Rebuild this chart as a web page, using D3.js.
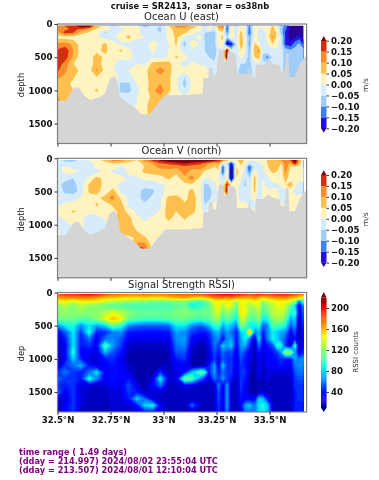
<!DOCTYPE html>
<html>
<head>
<meta charset="utf-8">
<script src="https://d3js.org/d3.v7.min.js"></script>
<style>
  html, body { margin: 0; padding: 0; background: #fff; }
  svg { display: block; filter: blur(0.35px); }
  text { font-family: "DejaVu Sans", sans-serif; }
</style>
</head>
<body>
<svg id="chart" width="379" height="480"></svg>
<script>
// grid the sections are read on, finer over the shelf where the streaks are
const latGrid = [32.50,32.535,32.575,32.61,32.65,32.685,32.725,32.76,32.80,32.835,32.875,32.91,32.95,32.985,33.025,33.06,33.10,33.135,33.175,33.195,33.215,33.24,33.26,33.28,33.30,33.32,33.345,33.365,33.385,33.405,33.43,33.45,33.47,33.49,33.515,33.535,33.555,33.575,33.60,33.62,33.64,33.66]
const velDepths = [25,80,130,200,300,400,500,600,700,800,900,1000,1100,1200,1300,1400]
const rssiDepths = [25,80,130,200,300,400,500,600,700,800,900,1000,1100,1200,1300,1400,1500,1600,1700,1800]

// ocean U, cm/s
const oceanU = [
[12,15,18,25,25,8,3,-2,2,2,2,-8,-3,-5,5,12,12,10,2,-3,3,-2,12,16,-14,3,-3,3,1,-12,4,1,1,0,6,1,-6,-12,-22,-25,-25,-25],
[10,14,16,14,9,4,2,-1,-1,1,2,-3,-4,-6,2,8,8,4,1,-3,2,-3,7,9,-15,3,-2,4,1,-13,3,-1,0,1,7,2,-8,-13,-22,-25,-25,-25],
[8,17,15,7,4,2,-6,-2,1,3,1,-2,-3,-5,2,7,6,1,-1,-5,-7,-7,1,4,-11,3,-3,7,0,-14,3,-2,-2,1,9,4,-7,-16,-23,-25,-22,-25],
[3,3,2,1,1,1,-2,-1,2,7,1,0,-2,-3,1,6,-1,-1,2,-6,-9,-8,4,6,-6,3,-1,8,1,-10,2,-1,-2,2,11,4,-3,-15,-22,-20,-17,-22],
[11,12,9,2,1,3,6,1,-1,-2,-2,-2,2,-1,0,6,-8,5,-1,-5,-8,-7,3,4,-23,-18,-3,8,2,-11,6,1,-4,0,5,3,-3,-16,-18,-12,-9,-16],
[16,19,10,3,2,4,6,3,6,1,-2,-3,1,-3,0,2,-2,-1,-2,-5,-6,-8,-2,-4,25,-4,-3,5,1,-9,9,11,-3,-1,-2,-2,-3,-7,-9,-8,-7,-7],
[20,18,9,2,3,7,4,1,1,1,-1,-2,-1,-2,1,6,2,-2,-2,-3,-5,-6,-1,-2,25,-2,-3,2,-2,-7,5,8,-7,-12,-4,-3,-4,-6,-7,-6,-6,-6],
[18,13,5,2,2,8,2,1,-3,-1,0,-1,7,8,7,1,-2,1,-1,-1,-5,-4,-3,-2,-2,-2,-3,-5,-5,-6,-2,-2,-4,-2,-2,-2,-4,-6,-6,-6,-6,-6],
[16,11,7,4,3,11,3,1,-4,0,0,3,9,12,8,0,2,5,4,3,-2,-3,-3,-3,-3,-3,-4,-6,-6,-7,-3,-6,-3,-3,-3,-3,-4,-6,-6,-6,-6,-6],
[11,9,6,1,1,5,2,2,-1,-1,1,3,8,9,6,1,-5,3,1,1,1,1,1,1,1,1,-4,-6,-6,-6,-3,-3,-3,-3,-3,-3,-4,-6,-6,-6,-6,-6],
[7,8,3,0,1,1,1,1,-6,-6,0,2,8,10,6,1,-7,1,1,1,1,1,1,1,1,1,1,1,1,1,1,1,1,1,1,1,1,1,1,1,1,1],
[5,6,5,1,3,6,2,1,-6,-7,-1,2,9,13,6,1,-4,2,3,2,1,1,1,1,1,1,1,1,1,1,1,1,1,1,1,1,1,1,1,1,1,1],
[11,7,2,1,5,2,1,1,-3,-2,0,1,7,9,3,0,1,1,1,1,1,1,1,1,1,1,1,1,1,1,1,1,1,1,1,1,1,1,1,1,1,1],
[11,7,2,1,2,1,1,1,-1,-1,0,3,8,5,1,0,1,1,1,1,1,1,1,1,1,1,1,1,1,1,1,1,1,1,1,1,1,1,1,1,1,1],
[11,7,2,1,2,1,1,1,-1,-1,1,4,7,3,1,0,1,1,1,1,1,1,1,1,1,1,1,1,1,1,1,1,1,1,1,1,1,1,1,1,1,1],
[11,7,2,1,2,1,1,1,-1,-1,2,4,6,2,1,0,1,1,1,1,1,1,1,1,1,1,1,1,1,1,1,1,1,1,1,1,1,1,1,1,1,1]
]

// ocean V, cm/s
const oceanV = [
[-3,-6,-8,-2,1,3,7,12,12,8,5,12,18,22,25,25,25,25,25,25,25,22,20,14,8,3,4,10,2,0,1,1,1,6,9,10,11,12,16,25,10,-1],
[-3,-4,-2,-3,-2,1,3,5,4,3,3,6,10,14,16,18,20,18,16,14,10,8,10,-4,-5,-18,2,6,3,-5,-2,-2,2,5,10,9,5,12,9,20,8,-3],
[-1,1,-2,-3,-1,1,2,3,-1,1,3,5,9,11,11,11,13,12,11,10,7,5,7,-14,2,-24,5,4,-1,-15,-2,-3,-1,4,9,9,1,13,4,2,2,-1],
[-2,1,2,-1,-3,-2,1,-1,-2,1,3,6,7,8,9,7,12,8,9,4,3,4,3,-15,4,-26,7,2,-2,-12,3,-3,-1,3,6,5,1,12,2,1,1,1],
[1,-3,-5,-3,1,7,3,5,2,-1,-1,1,2,3,6,2,9,12,3,-1,1,2,0,-5,2,-25,5,1,-5,-5,7,-2,0,-1,2,2,1,8,1,1,1,1],
[-3,-7,-7,-2,6,8,3,2,-1,-2,-1,-2,-3,-1,1,1,3,4,1,-6,-5,-2,2,-1,20,2,2,-2,-6,-3,7,-2,1,-2,-1,-1,1,4,9,1,-2,-1],
[-2,-6,-7,-3,6,7,1,8,-1,-2,-2,-8,-6,-1,1,1,4,6,1,-7,-7,-3,1,-1,23,6,1,-3,-3,-2,6,-3,1,1,1,1,-2,-2,1,-1,-1,-1],
[1,-2,-2,1,2,3,8,12,4,-1,-2,-8,-3,-1,7,8,3,8,1,-7,-6,-2,1,1,1,1,1,-1,-1,-1,2,-3,1,1,1,1,-1,-1,1,1,1,1],
[-1,1,2,2,1,6,2,6,7,-1,-2,-3,-5,-1,8,8,6,8,1,-5,-2,1,1,1,1,1,1,1,1,-1,-2,1,1,1,1,1,1,-1,1,1,1,1],
[2,2,6,3,1,2,1,2,8,3,-1,-2,-3,1,8,5,9,7,1,-1,1,1,1,1,1,1,1,1,1,1,1,1,1,1,1,1,1,1,1,1,1,1],
[-1,1,1,1,-2,-2,1,3,7,7,1,-1,1,2,7,2,6,2,1,1,1,1,1,1,1,1,1,1,1,1,1,1,1,1,1,1,1,1,1,1,1,1],
[-1,-2,1,1,-3,-2,-2,3,8,8,2,1,1,3,2,1,2,1,1,1,1,1,1,1,1,1,1,1,1,1,1,1,1,1,1,1,1,1,1,1,1,1],
[1,-2,-1,1,-2,-2,1,2,8,9,5,2,1,2,1,1,1,1,1,1,1,1,1,1,1,1,1,1,1,1,1,1,1,1,1,1,1,1,1,1,1,1],
[1,-2,-1,1,-2,-2,1,2,2,3,6,6,2,1,1,1,1,1,1,1,1,1,1,1,1,1,1,1,1,1,1,1,1,1,1,1,1,1,1,1,1,1],
[1,-2,-1,1,-2,-2,1,2,2,3,12,12,2,1,1,1,1,1,1,1,1,1,1,1,1,1,1,1,1,1,1,1,1,1,1,1,1,1,1,1,1,1],
[1,-2,-1,1,-2,-2,1,2,2,3,25,18,2,1,1,1,1,1,1,1,1,1,1,1,1,1,1,1,1,1,1,1,1,1,1,1,1,1,1,1,1,1]
]

// signal strength, counts
const rssiCounts = [
[185,190,190,195,200,195,185,180,178,175,175,178,175,175,178,180,180,182,185,188,190,192,198,200,205,200,195,195,190,185,190,195,190,188,190,195,195,195,190,185,180,175],
[165,168,170,172,170,165,158,155,152,150,150,152,150,150,155,160,165,155,150,155,160,175,170,175,165,175,165,165,160,165,170,160,150,160,165,165,170,170,165,155,150,145],
[145,148,140,148,150,148,138,132,128,125,120,118,115,112,115,118,118,105,100,110,120,140,145,140,150,140,125,145,140,140,150,145,125,135,140,150,145,145,135,130,60,110],
[115,130,115,130,120,118,110,105,105,100,100,100,100,100,100,105,110,85,95,100,110,135,150,125,145,140,110,150,140,125,130,140,105,120,130,140,145,135,110,80,25,70],
[118,122,118,122,118,118,130,138,130,118,112,110,110,110,110,115,120,115,110,115,110,130,140,110,125,115,100,150,145,120,115,130,100,110,130,135,135,125,90,100,25,60],
[110,112,112,105,105,118,142,160,148,110,105,100,100,100,105,110,110,105,100,105,105,120,125,95,110,100,85,135,130,105,105,120,85,90,120,125,125,110,70,80,18,55],
[65,85,90,65,85,70,80,110,95,65,58,55,55,55,58,85,85,65,55,65,75,95,100,70,85,75,60,115,110,85,85,95,53,65,105,100,100,90,53,70,16,47],
[32,53,85,47,95,40,45,60,65,40,38,38,38,38,40,70,65,47,40,36,47,70,75,53,70,60,40,80,85,170,60,75,40,65,85,80,70,65,33,53,16,40],
[27,40,85,40,60,33,60,65,53,32,30,30,30,30,32,65,70,33,28,27,40,60,65,33,65,70,40,70,90,60,22,85,33,60,90,80,65,53,27,40,16,40],
[27,33,85,40,47,33,105,70,47,24,22,22,22,22,24,60,65,27,20,20,33,60,47,80,70,80,33,70,75,47,18,60,33,40,53,95,90,47,27,100,16,40],
[22,33,95,33,33,27,75,53,40,20,19,19,19,19,20,53,53,22,18,18,27,53,40,60,47,53,30,60,47,33,18,40,27,33,40,47,70,125,120,70,22,47],
[22,33,80,44,27,27,40,44,33,18,18,18,18,18,20,40,47,20,18,18,27,47,33,53,47,47,27,53,40,33,18,33,24,33,33,40,47,40,40,70,60,70],
[22,47,60,75,40,27,33,40,33,22,18,18,18,20,20,33,33,18,18,22,40,70,33,80,47,47,27,47,40,27,16,33,22,33,33,33,40,33,33,60,65,65],
[47,60,47,40,60,85,33,40,33,27,20,18,18,47,22,27,40,80,110,95,40,70,40,60,47,47,27,47,47,27,16,33,20,27,27,27,27,27,27,53,60,60],
[60,47,47,40,95,65,30,40,33,40,20,18,27,90,27,27,115,105,60,40,27,60,47,70,47,40,22,47,40,22,16,27,20,27,22,22,22,22,22,47,53,53],
[47,40,47,27,27,22,27,33,30,53,27,18,33,60,22,22,33,27,22,20,22,22,65,27,70,22,20,47,33,22,16,22,18,22,20,20,20,22,20,47,47,47],
[60,33,47,27,22,22,22,27,27,47,40,22,27,27,22,22,22,20,20,20,20,22,53,27,70,22,20,44,33,22,16,22,22,20,20,20,20,20,20,40,47,47],
[33,27,47,27,22,22,20,27,27,40,80,60,27,22,22,22,20,20,20,20,20,22,53,27,70,22,20,40,33,33,33,80,75,40,20,20,20,20,20,40,47,47],
[22,33,47,27,20,20,20,27,27,27,40,80,90,33,22,20,20,60,27,20,20,22,47,27,70,22,20,33,70,80,60,85,90,80,27,20,20,20,20,40,40,40],
[20,33,47,22,20,20,20,24,24,22,27,40,40,27,20,20,20,20,20,20,20,22,47,27,65,22,20,27,60,60,60,80,85,75,27,20,20,20,20,40,40,40]
]

// bottom depth along the section
const bottomLat = [32.499,32.54,32.564,32.582,32.601,32.622,32.653,32.70,32.724,32.747,32.771,32.787,32.795,32.826,32.873,32.894,32.936,32.96,33.007,33.10,33.185,33.188,33.211,33.215,33.230,33.235,33.248,33.254,33.263,33.285,33.287,33.300,33.302,33.330,33.342,33.348,33.400,33.405,33.411,33.432,33.436,33.470,33.495,33.520,33.550,33.553,33.573,33.578,33.589,33.594,33.620,33.642,33.678]
const bottomDepth = [1160,1160,1024,958,958,1064,1150,1100,1050,823,783,923,1100,1175,1285,1360,1360,1250,1074,1074,1050,813,813,663,663,773,773,562,396,396,562,562,411,422,472,748,748,622,748,813,612,612,547,597,622,713,713,447,447,798,798,612,447]

const uvLevels = [-20,-15,-10,-5,0,5,10,15,20]
const uvColors = ['#2a0090','#2210e0','#3d80f0','#a0cef8','#d6ecfb','#fff3bf','#ffc04d','#ff8a2a','#d92c0c','#7a0010']
const rssiTicks = [40,80,120,160,200]
const uvTicks = [0.20,0.15,0.10,0.05,0,-0.05,-0.10,-0.15,-0.20]
const depthTicks = [0,500,1000,1500]
const latTicks = [32.5,32.75,33,33.25,33.5]
const latLabels = ['32.5°N','32.75°N','33°N','33.25°N','33.5°N']

const panels = [
  {title:'Ocean U (east)', ylabel:'depth', top:24, grid:oceanU, kind:'uv', titleY:20},
  {title:'Ocean V (north)', ylabel:'depth', top:158.3, grid:oceanV, kind:'uv', titleY:153.5},
  {title:'Signal Strength RSSI)', ylabel:'dep', top:292.5, grid:rssiCounts, kind:'rssi', titleY:288}
]

let svg = d3.select('#chart')

let xScale = d3.scaleLinear().domain([32.5,33.675]).range([57.5,306.6])

// matplotlib jet, stops copied from its segment table
let jet = d3.scaleLinear()
  .domain([0,.11,.125,.34,.35,.375,.64,.66,.89,.91,1])
  .range(['#00007f','#0000ff','#0000ff','#00dbff','#00e6f7','#14ffe2','#eeff08','#ffec00','#ff1300','#e80000','#7f0000'])
let rssiColor = d => jet((d - 10) / 210)

function drawField(g, panel, yScale) {
  let grid = panel.grid
  let depths = panel.kind == 'uv' ? velDepths : rssiDepths
  let n = latGrid.length, m = depths.length
  let xIdx = d3.scaleLinear().domain(d3.range(n)).range(latGrid).clamp(true)
  let yIdx = d3.scaleLinear().domain(d3.range(m)).range(depths).clamp(true)
  let path = d3.geoPath(d3.geoTransform({
    point(x, y) {
      this.stream.point(xScale(xIdx(x - 0.5)), yScale(yIdx(y - 0.5)))
    }
  }))

  let thresholds, color
  if (panel.kind == 'uv') {
    thresholds = [-100].concat(uvLevels)
    color = i => uvColors[i]
  } else {
    thresholds = d3.range(0, 236, 4)
    color = i => rssiColor(thresholds[i] + 2)
  }
  let contours = d3.contours().size([n, m]).thresholds(thresholds)(grid.flat())
  g.selectAll('path.band')
    .data(contours)
    .enter()
    .append('path')
    .attr('class', 'band')
    .attr('d', path)
    .attr('fill', (d, i) => color(i))
}

function drawBottom(g, yScale) {
  let area = d3.area()
    .x(d => xScale(d[0]))
    .y0(yScale.range()[1])
    .y1(d => yScale(d[1]))
  g.append('path')
    .attr('d', area(d3.zip(bottomLat, bottomDepth)))
    .attr('fill', '#d5d5d5')
}

function styleAxis(a) {
  a.attr('font-family', '"DejaVu Sans", sans-serif')
    .attr('font-size', 8.6)
    .attr('font-weight', 'bold')
  a.select('.domain').remove()
  a.selectAll('.tick line').attr('stroke', '#333')
  a.selectAll('.tick text').attr('fill', '#111')
}

function drawColorbar(panel) {
  let x = 321, w = 5.5
  let bar = svg.append('g')
  if (panel.kind == 'uv') {
    let off = panel.top - 24
    let cScale = d3.scaleLinear().domain([-0.2,0.2]).range([128.3 + off, 40.7 + off])
    let edges = d3.pairs(uvLevels)
    bar.selectAll('rect')
      .data(edges)
      .enter()
      .append('rect')
      .attr('x', x).attr('width', w)
      .attr('y', d => cScale(d[1] / 100))
      .attr('height', d => cScale(d[0] / 100) - cScale(d[1] / 100))
      .attr('fill', (d, i) => uvColors[i + 1])
    bar.append('path')
      .attr('d', `M${x},${40.9 + off}L${x + w / 2},${36 + off}L${x + w},${40.9 + off}Z`)
      .attr('fill', uvColors[9])
    bar.append('path')
      .attr('d', `M${x},${128.1 + off}L${x + w / 2},${132.8 + off}L${x + w},${128.1 + off}Z`)
      .attr('fill', uvColors[0])
    bar.append('g')
      .attr('transform', `translate(${x + w},0)`)
      .call(d3.axisRight(cScale).tickValues(uvTicks).tickSize(2.5).tickPadding(2)
        .tickFormat(d => d3.format('.2f')(d).replace('-', '\u2212')))
      .call(styleAxis)
    svg.append('text')
      .attr('transform', `translate(368,${85 + off}) rotate(-90)`)
      .attr('text-anchor', 'middle')
      .attr('font-size', 7.5)
      .attr('fill', '#333')
      .text('m/s')
  } else {
    let cScale = d3.scaleLinear().domain([40,200]).range([392,308])
    bar.selectAll('rect')
      .data(d3.range(10, 220, 2))
      .enter()
      .append('rect')
      .attr('x', x).attr('width', w)
      .attr('y', d => cScale(d + 2))
      .attr('height', cScale(0) - cScale(2) + 0.3)
      .attr('fill', d => rssiColor(d + 1))
    bar.append('path')
      .attr('d', `M${x},${cScale(220)}L${x + w / 2},292L${x + w},${cScale(220)}Z`)
      .attr('fill', '#7f0000')
    bar.append('path')
      .attr('d', `M${x},${cScale(10)}L${x + w / 2},412L${x + w},${cScale(10)}Z`)
      .attr('fill', '#00007f')
    bar.append('g')
      .attr('transform', `translate(${x + w},0)`)
      .call(d3.axisRight(cScale).tickValues(rssiTicks).tickSize(2.5).tickPadding(2))
      .call(styleAxis)
    svg.append('text')
      .attr('transform', 'translate(358,352) rotate(-90)')
      .attr('text-anchor', 'middle')
      .attr('font-size', 7)
      .attr('fill', '#333')
      .text('RSSI counts')
  }
}

panels.forEach((panel, i) => {
  let yScale = d3.scaleLinear().domain([0,1800]).range([panel.top, panel.top + 119.5])
  let g = svg.append('g')
  drawField(g, panel, yScale)
  if (panel.kind == 'uv') drawBottom(g, yScale)

  g.append('rect')
    .attr('x', xScale.range()[0])
    .attr('y', panel.top)
    .attr('width', xScale.range()[1] - xScale.range()[0])
    .attr('height', 119.5)
    .attr('fill', 'none')
    .attr('stroke', '#808080')
    .attr('stroke-width', 1.2)

  g.append('g')
    .attr('transform', `translate(${xScale.range()[0]},0)`)
    .call(d3.axisLeft(yScale).tickValues(depthTicks).tickSize(3).tickPadding(2).tickFormat(d3.format('d')))
    .call(styleAxis)

  g.append('g')
    .attr('transform', `translate(0,${panel.top + 119.5})`)
    .call(d3.axisBottom(xScale).tickValues(latTicks).tickSize(3).tickPadding(2)
      .tickFormat((d, j) => i == 2 ? latLabels[j] : ''))
    .call(styleAxis)

  svg.append('text')
    .attr('x', 181.5).attr('y', panel.titleY)
    .attr('text-anchor', 'middle')
    .attr('font-size', 10)
    .attr('fill', '#222')
    .text(panel.title)

  svg.append('text')
    .attr('transform', `translate(24,${panel.top + 61}) rotate(-90)`)
    .attr('text-anchor', 'middle')
    .attr('font-size', 8.4)
    .attr('fill', '#222')
    .text(panel.ylabel)

  drawColorbar(panel)
})

svg.append('text')
  .attr('x', 190).attr('y', 9)
  .attr('text-anchor', 'middle')
  .attr('font-size', 8.3)
  .attr('font-weight', 'bold')
  .attr('fill', '#111')
  .attr('xml:space', 'preserve')
  .style('white-space', 'pre')
  .text('cruise = SR2413,  sonar = os38nb')

let footer = ['time range ( 1.49 days)', '(dday = 214.997) 2024/08/02 23:55:04 UTC', '(dday = 213.507) 2024/08/01 12:10:04 UTC']
svg.selectAll('text.foot')
  .data(footer)
  .enter()
  .append('text')
  .attr('class', 'foot')
  .attr('x', 19)
  .attr('y', (d, i) => 455 + i * 8.9)
  .attr('font-size', 8.2)
  .attr('font-weight', 'bold')
  .attr('fill', 'purple')
  .text(d => d)
</script>
</body>
</html>
